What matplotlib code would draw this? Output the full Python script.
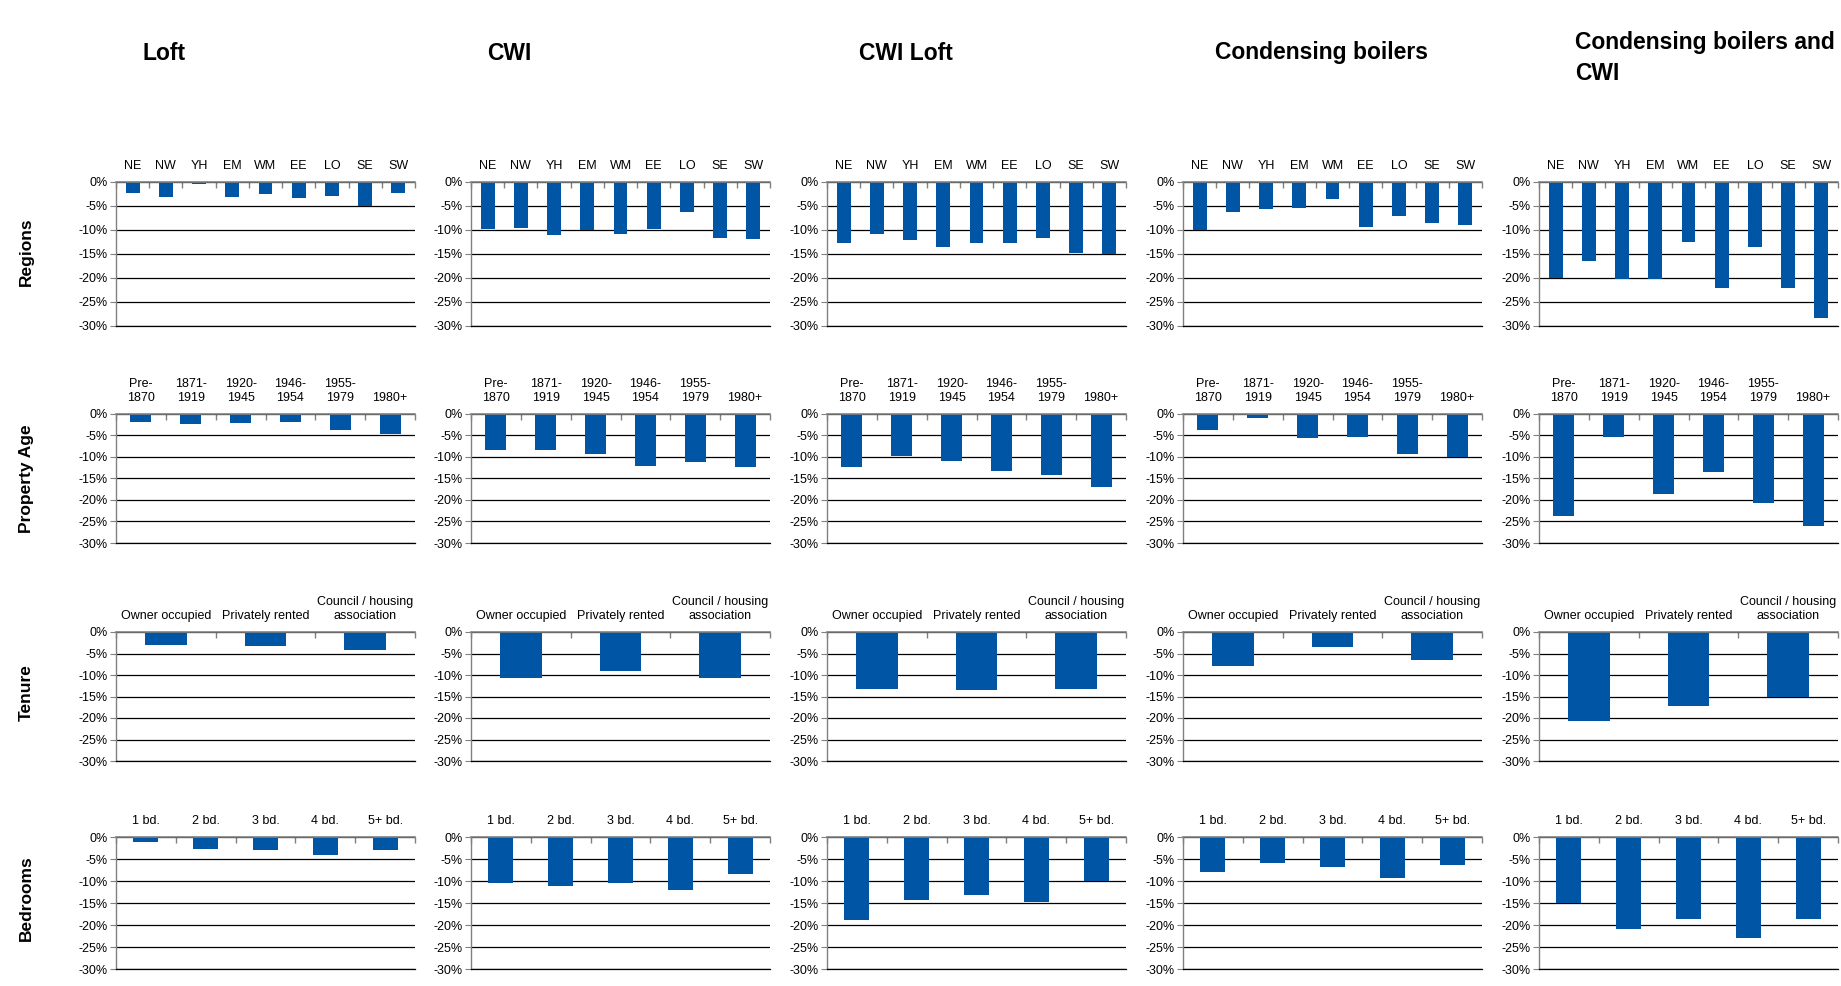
import numpy as np
import matplotlib
matplotlib.use("Agg")
import matplotlib.pyplot as plt
from matplotlib.ticker import FuncFormatter, FixedLocator

plt.rcParams['font.family'] = ['Liberation Sans', 'DejaVu Sans']

# ---- categories -------------------------------------------------------
regions = ['NE', 'NW', 'YH', 'EM', 'WM', 'EE', 'LO', 'SE', 'SW']
ages = ['Pre-\n1870', '1871-\n1919', '1920-\n1945', '1946-\n1954', '1955-\n1979', '1980+']
tenures = ['Owner occupied', 'Privately rented', 'Council / housing\nassociation']
bedrooms = ['1 bd.', '2 bd.', '3 bd.', '4 bd.', '5+ bd.']

measures = ['Loft', 'CWI', 'CWI Loft', 'Condensing boilers', 'Condensing boilers and\nCWI']
row_names = ['Regions', 'Property Age', 'Tenure', 'Bedrooms']

# ---- change in consumption (%) by region ---------------------------------
loft_regions = [-2.3, -3.1, -0.4, -3.1, -2.5, -3.3, -2.9, -4.9, -2.3]
cwi_regions = [-9.7, -9.5, -11.1, -10.0, -10.9, -9.7, -6.3, -11.7, -11.9]
cwiloft_regions = [-12.8, -10.9, -12.1, -13.6, -12.8, -12.8, -11.7, -14.7, -15.1]
boiler_regions = [-9.9, -6.3, -5.7, -5.4, -3.6, -9.4, -7.1, -8.6, -8.9]
boilercwi_regions = [-20.1, -16.5, -20.3, -20.3, -12.4, -22.0, -13.6, -22.0, -28.3]

# ---- by property age ------------------------------------------------------
loft_age = [-1.9, -2.3, -2.1, -1.9, -3.7, -4.6]
cwi_age = [-8.4, -8.4, -9.3, -12.1, -11.1, -12.3]
cwiloft_age = [-12.3, -9.8, -10.9, -13.2, -14.2, -16.9]
boiler_age = [-3.7, -0.9, -5.6, -5.3, -9.3, -10.0]
boilercwi_age = [-23.7, -5.3, -18.6, -13.5, -20.6, -26.0]

# ---- by tenure ------------------------------------------------------------
loft_tenure = [-3.0, -3.2, -4.1]
cwi_tenure = [-10.7, -9.0, -10.7]
cwiloft_tenure = [-13.2, -13.6, -13.2]
boiler_tenure = [-7.8, -3.4, -6.6]
boilercwi_tenure = [-20.6, -17.3, -15.0]

# ---- by number of bedrooms -------------------------------------------------
loft_bed = [-1.1, -2.7, -2.9, -4.0, -2.9]
cwi_bed = [-10.5, -11.1, -10.5, -12.0, -8.4]
cwiloft_bed = [-18.9, -14.3, -13.2, -14.7, -10.0]
boiler_bed = [-8.0, -5.9, -6.9, -9.4, -6.3]
boilercwi_bed = [-14.9, -21.0, -18.7, -22.9, -18.7]

rows = [
    (regions, [loft_regions, cwi_regions, cwiloft_regions, boiler_regions, boilercwi_regions]),
    (ages, [loft_age, cwi_age, cwiloft_age, boiler_age, boilercwi_age]),
    (tenures, [loft_tenure, cwi_tenure, cwiloft_tenure, boiler_tenure, boilercwi_tenure]),
    (bedrooms, [loft_bed, cwi_bed, cwiloft_bed, boiler_bed, boilercwi_bed]),
]

BLUE = '#0055A5'
W, H = 1841, 986
fig = plt.figure(figsize=(W / 100, H / 100), dpi=100)

# panel geometry in pixels
col_left = [116, 471, 827, 1183, 1539]
col_width = 299
row_top = [182, 414, 632, 837]
row_bottom = [326, 543, 761, 969]

pct = FuncFormatter(lambda v, _: f"{int(round(v))}%")

for r, (cats, series) in enumerate(rows):
    n = len(cats)
    x = np.arange(n)
    for c, vals in enumerate(series):
        left = col_left[c] / W
        bottom = 1 - row_bottom[r] / H
        height = (row_bottom[r] - row_top[r]) / H
        ax = fig.add_axes([left, bottom, col_width / W, height])
        ax.bar(x, vals, width=0.42, color=BLUE, zorder=3)
        ax.set_xlim(-0.5, n - 0.5)
        ax.set_ylim(-30, 0)
        ax.set_yticks(np.arange(-30, 1, 5))
        ax.yaxis.set_major_formatter(pct)
        ax.grid(axis='y', color='black', linewidth=0.9, zorder=1)
        ax.set_axisbelow(True)

        ax.spines['right'].set_visible(False)
        ax.spines['bottom'].set_color('black')
        ax.spines['bottom'].set_linewidth(0.9)
        ax.spines['left'].set_color('#808080')
        ax.spines['left'].set_linewidth(1.0)
        ax.spines['top'].set_color('#808080')
        ax.spines['top'].set_linewidth(1.2)
        ax.spines['top'].set_zorder(4)

        ax.xaxis.tick_top()
        ax.set_xticks(x)
        ax.set_xticklabels(cats, fontsize=9, linespacing=1.25)
        ax.xaxis.set_minor_locator(FixedLocator(np.arange(-0.5, n, 1.0)))
        ax.tick_params(axis='x', which='major', length=0, pad=7, colors='black')
        ax.tick_params(axis='x', which='minor', top=True, bottom=False,
                       direction='in', length=4, color='#808080', width=1.0)
        ax.tick_params(axis='y', which='major', direction='out', length=4,
                       color='#808080', labelsize=9, pad=2)

# column titles
title_x = [143, 487, 859, 1215, 1575]
for c, name in enumerate(measures):
    y = 53 if '\n' not in name else 58
    fig.text(title_x[c] / W, 1 - y / H, name, fontsize=16.5, fontweight='bold',
             ha='left', va='center', linespacing=1.45)

# row labels
row_label_y = [252, 479, 693, 898]
for r, name in enumerate(row_names):
    fig.text(26 / W, 1 - row_label_y[r] / H, name, fontsize=12.5, fontweight='bold',
             rotation=90, ha='center', va='center')

fig.savefig('out.png', dpi=100)
